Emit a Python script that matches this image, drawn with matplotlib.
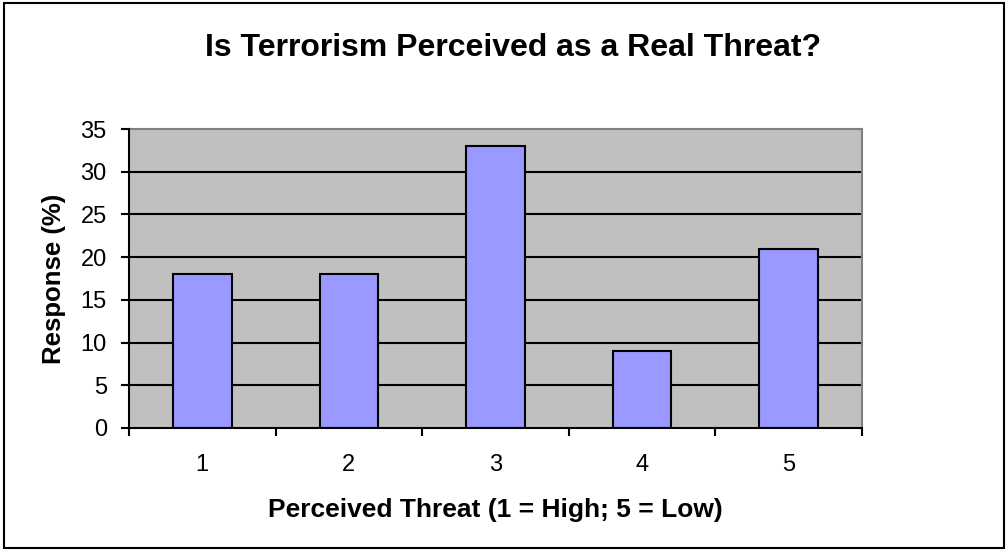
import matplotlib
matplotlib.use("Agg")
import matplotlib.pyplot as plt
from matplotlib.patches import Rectangle
import numpy as np

categories = ["1", "2", "3", "4", "5"]
values = [18, 18, 33, 9, 21]
yticks = [0, 5, 10, 15, 20, 25, 30, 35]

plt.rcParams['font.family'] = ['Liberation Sans', 'DejaVu Sans']

fig = plt.figure(figsize=(10.08, 5.51), dpi=100)
fig.patches.append(Rectangle((4/1008, 3/551), 1000/1008, 545/551, transform=fig.transFigure,
                             fill=False, edgecolor='black', linewidth=1.5))

ax = fig.add_axes([129/1008, 1 - 428/551, (862-129)/1008, (428-129)/551])
ax.set_facecolor('#C0C0C0')
x = np.arange(len(categories))
ax.bar(x, values, width=0.4, color='#9999FF', edgecolor='black', linewidth=1.5, zorder=3)
ax.set_xlim(-0.5, len(categories) - 0.5)
ax.set_ylim(0, 35)
ax.set_yticks(yticks)
ax.set_yticklabels([str(v) for v in yticks], fontsize=17)
for v in yticks[1:-1]:
    ax.axhline(v, color='black', linewidth=1.5, zorder=2)

ax.set_xticks(x)
ax.set_xticklabels(categories, fontsize=17)
ax.set_xticks(np.arange(-0.5, len(categories)), minor=True)
ax.tick_params(axis='x', which='major', length=0, pad=19)
ax.tick_params(axis='x', which='minor', length=5.5, width=1.5, direction='out', color='black')
ax.tick_params(axis='y', length=5.5, width=1.5, direction='out', pad=10.5)

for s in ['top', 'right']:
    ax.spines[s].set_color('#808080')
    ax.spines[s].set_linewidth(1.5)
for s in ['left', 'bottom']:
    ax.spines[s].set_color('black')
    ax.spines[s].set_linewidth(1.5)
    ax.spines[s].set_zorder(4)

ax.set_ylabel('Response (%)', fontsize=18.5, fontweight='bold', va='center', ha='center')
ax.yaxis.set_label_coords(-0.102, 0.5)
ax.set_xlabel('Perceived Threat (1 = High; 5 = Low)', fontsize=19, fontweight='bold', va='center', ha='center')
ax.xaxis.set_label_coords(0.5, -0.275)
fig.text(513/1008, 1 - 48/551, 'Is Terrorism Perceived as a Real Threat?', ha='center', va='center',
         fontsize=23, fontweight='bold')

fig.savefig('out.png', dpi=100)
